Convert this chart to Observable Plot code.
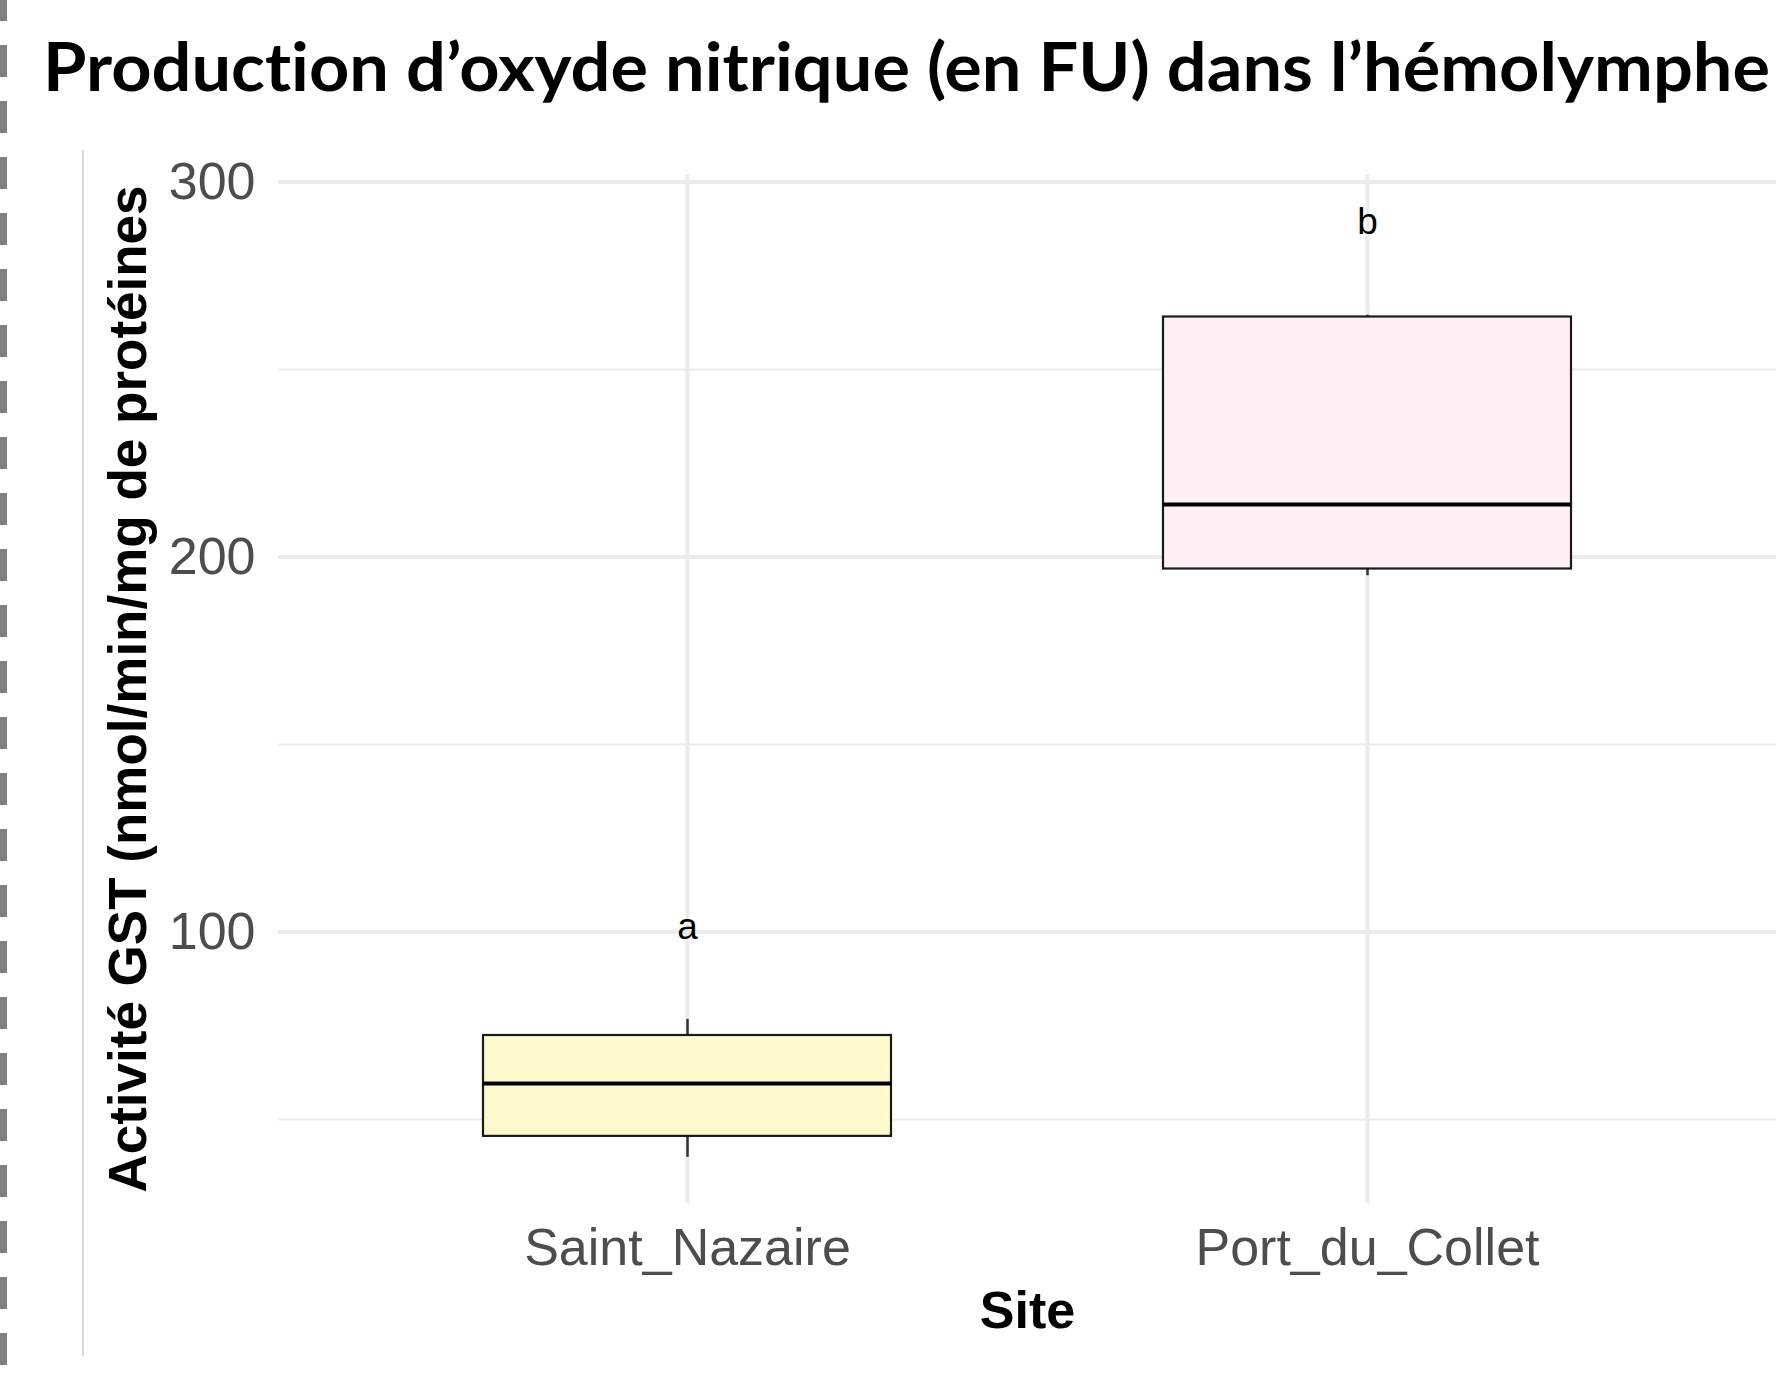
<!DOCTYPE html>
<html>
<head>
<meta charset="utf-8">
<script src="https://cdn.jsdelivr.net/npm/d3@7"></script>
<script src="https://cdn.jsdelivr.net/npm/@observablehq/plot@0.6"></script>
<style>
  html, body { margin: 0; padding: 0; background: #fff; }
  #wrap { position: relative; width: 1779px; height: 1384px; overflow: hidden; background: #fff; }
  #dash { position: absolute; left: 0; top: 0; width: 7px; height: 1384px;
          background: repeating-linear-gradient(to bottom, #808080 0 21px, transparent 21px 45px, #808080 45px 56px); }
  #vline { position: absolute; left: 82px; top: 150px; width: 2px; height: 1206px; background: #d9d9d9; }
  #title { position: absolute; left: 43px; top: 32px; font-family: Lato, "Open Sans", sans-serif; font-weight: 700;
           font-size: 67px; line-height: 1; white-space: nowrap; color: #000; transform-origin: 0 0; display: inline-block;
           font-variant-ligatures: none; font-feature-settings: "liga" 0; }
  #chart { position: absolute; left: 0; top: 130px; }
</style>
</head>
<body>
<div id="wrap">
  <div id="dash"></div>
  <div id="vline"></div>
  <span id="title">Production d’oxyde nitrique (en FU) dans l’hémolymphe</span>
  <div id="chart"></div>
</div>
<script>
// ---- data ----
const sites = ["Saint_Nazaire", "Port_du_Collet"];
const whiskerLow = [39.9, 195.0];
const q1 = [45.5, 196.8];
const median = [59.6, 214.0];
const q3 = [72.4, 264.0];
const whiskerHigh = [76.7, 264.5];
const letters = ["a", "b"];
const letterY = [101.2, 289.2];
const boxFills = ["#FFFACD", "#FFF0F5"];
const yTickLabels = [100, 200, 300];
const yMinorGrid = [50, 150, 250];
const yTitle = "Activité GST (nmol/min/mg de protéines";
const xTitle = "Site";

const rows = sites.map((s, i) => ({
  site: s, lo: whiskerLow[i], q1: q1[i], median: median[i], q3: q3[i], hi: whiskerHigh[i],
  letter: letters[i], letterY: letterY[i], fill: boxFills[i]
}));

const chart = Plot.plot({
  width: 1779,
  height: 1254,
  marginTop: 44,
  marginBottom: 181,
  marginLeft: 278,
  marginRight: 3,
  style: { fontFamily: "'Liberation Sans', Arial, sans-serif", background: "transparent", overflow: "visible" },
  x: { type: "band", domain: sites, paddingInner: 0.4, paddingOuter: 0.3, label: null },
  y: { domain: [27.6, 302], label: null },
  color: { type: "identity" },
  marks: [
    Plot.gridY(yMinorGrid, { stroke: "#ebebeb", strokeOpacity: 1, strokeWidth: 2 }),
    Plot.gridY(yTickLabels, { stroke: "#ebebeb", strokeOpacity: 1, strokeWidth: 4 }),
    Plot.gridX(sites, { stroke: "#ebebeb", strokeOpacity: 1, strokeWidth: 4 }),
    Plot.ruleX(rows, { x: "site", y1: "lo", y2: "hi", stroke: "#333333", strokeWidth: 2.5 }),
    Plot.barY(rows, { x: "site", y1: "q1", y2: "q3", fill: "fill", stroke: "#1a1a1a", strokeWidth: 2.2 }),
    Plot.tickY(rows, { x: "site", y: "median", stroke: "#000", strokeWidth: 4 }),
    Plot.text(rows, { x: "site", y: "letterY", text: "letter", fontSize: 37, fill: "#000" }),
    Plot.axisY(yTickLabels, { tickSize: 0, tickPadding: 23, fontSize: 52, fill: "#4d4d4d", label: null }),
    Plot.axisX({ tickSize: 0, tickPadding: 25, fontSize: 52, fill: "#4d4d4d", label: null }),
    Plot.text([xTitle], { frameAnchor: "bottom", dy: 124, lineAnchor: "bottom", fontSize: 52, fontWeight: "bold", fill: "#000" }),
    Plot.text([yTitle], { frameAnchor: "left", textAnchor: "middle", rotate: -90, dx: -133, lineAnchor: "bottom", fontSize: 53, fontWeight: "bold", fill: "#000" })
  ]
});
document.getElementById("chart").appendChild(chart);

function fitTitle() {
  const t = document.getElementById("title");
  t.style.transform = "none";
  const w = t.getBoundingClientRect().width;
  if (w > 0) t.style.transform = `scaleX(${1727 / w})`;
}
fitTitle();
if (document.fonts && document.fonts.ready) document.fonts.ready.then(fitTitle);
</script>
</body>
</html>
